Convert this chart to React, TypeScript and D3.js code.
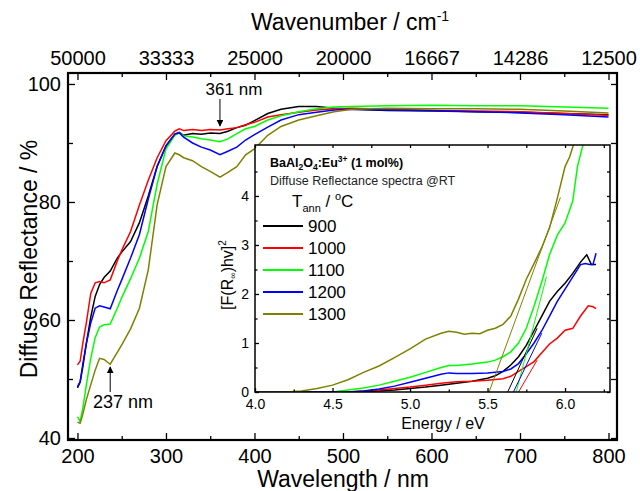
import React, { useRef, useEffect } from 'react';
import * as d3 from 'd3';

// Main plot: diffuse reflectance vs wavelength
const wavelengths = [200, 203, 206, 210, 215, 220, 225, 230, 237, 245, 250, 260, 270, 280, 290, 300, 310, 315, 320, 330, 340, 350, 361, 370, 380, 390, 400, 415, 430, 450, 470, 490, 510, 550, 600, 650, 700, 750, 800];
const refl900 = [48.5, 49.5, 52, 56, 60.5, 64, 66, 67.2, 68.3, 70.5, 71.5, 73.3, 76.5, 81, 86, 89.5, 91.5, 91.8, 91.3, 91.6, 91.5, 91.7, 91.6, 92.0, 92.6, 93.0, 93.8, 95.0, 95.7, 96.2, 96.2, 95.9, 95.7, 95.5, 95.4, 95.3, 95.2, 95.0, 94.8];
const refl1000 = [52.4, 53, 56, 59.5, 64.5, 66.3, 66.5, 66.3, 66.8, 70, 71.8, 75, 79.5, 83.7, 87.5, 90.4, 92.0, 92.4, 92.1, 92.3, 92.1, 92.3, 92.2, 92.4, 92.6, 93.1, 93.5, 94.4, 94.8, 95.2, 95.6, 95.8, 95.9, 95.7, 95.5, 95.4, 95.3, 95.0, 94.7];
const refl1100 = [43.6, 42.8, 45, 49, 53.5, 57, 58.8, 59.2, 59.3, 62, 63.8, 67, 70.5, 75, 83, 89, 91.3, 91.7, 91.2, 91.0, 90.7, 90.5, 90.2, 90.7, 91.6, 92.4, 92.8, 93.9, 94.6, 95.3, 95.8, 96.1, 96.2, 96.3, 96.4, 96.3, 96.3, 96.1, 95.9];
const refl1200 = [48.7, 49.5, 52.5, 56, 59.5, 62, 62.4, 62.2, 61.9, 65, 66.8, 70.5, 74.5, 80.5, 86, 89.5, 91.5, 91.7, 91.0, 90.0, 89.3, 88.8, 88.0, 88.6, 89.3, 90.5, 91.4, 92.7, 93.9, 94.8, 95.2, 95.6, 95.7, 95.6, 95.5, 95.3, 95.1, 94.8, 94.4];
const refl1300 = [42.7, 42.5, 44, 46.5, 49, 51.5, 53.5, 53.3, 52.5, 54.5, 55.8, 58.5, 62, 68.5, 79.5, 86, 88.3, 88.0, 87.5, 87.0, 86.0, 85.2, 84.2, 85.0, 86.0, 88.0, 89.0, 91.3, 92.8, 93.9, 94.6, 95.3, 95.7, 95.9, 95.8, 95.8, 95.7, 95.4, 95.1];

// Inset: Kubelka-Munk [F(R)hv]^2 vs energy
const energy900 = [4.0, 4.7, 4.8, 4.9, 5.0, 5.1, 5.2, 5.3, 5.4, 5.5, 5.55, 5.6, 5.65, 5.7, 5.75, 5.8, 5.85, 5.9, 5.95, 6.0, 6.05, 6.1, 6.14, 6.17, 6.2];
const km900 = [0, 0, 0.02, 0.04, 0.07, 0.10, 0.14, 0.18, 0.22, 0.28, 0.33, 0.42, 0.55, 0.72, 0.95, 1.25, 1.55, 1.85, 2.05, 2.22, 2.42, 2.65, 2.80, 2.60, 2.60];
const energy1000 = [4.0, 4.6, 4.7, 4.8, 4.9, 5.0, 5.1, 5.2, 5.3, 5.4, 5.5, 5.6, 5.65, 5.7, 5.75, 5.8, 5.85, 5.9, 5.95, 6.0, 6.05, 6.1, 6.15, 6.18, 6.2];
const km1000 = [0, 0, 0.02, 0.04, 0.07, 0.10, 0.14, 0.18, 0.21, 0.22, 0.24, 0.27, 0.32, 0.42, 0.52, 0.62, 0.80, 0.98, 1.10, 1.26, 1.30, 1.55, 1.76, 1.74, 1.70];
const energy1100 = [4.0, 4.5, 4.6, 4.7, 4.8, 4.9, 5.0, 5.1, 5.2, 5.25, 5.3, 5.4, 5.5, 5.55, 5.6, 5.65, 5.7, 5.75, 5.8, 5.85, 5.9, 5.95, 6.0, 6.05, 6.08, 6.12];
const km1100 = [0, 0, 0.04, 0.08, 0.14, 0.22, 0.30, 0.40, 0.50, 0.54, 0.54, 0.57, 0.61, 0.65, 0.72, 0.82, 1.0, 1.3, 1.75, 2.25, 2.8, 3.2, 3.45, 3.9, 4.6, 5.1];
const energy1200 = [4.0, 4.6, 4.7, 4.8, 4.9, 5.0, 5.1, 5.2, 5.25, 5.3, 5.4, 5.5, 5.6, 5.65, 5.7, 5.75, 5.8, 5.85, 5.9, 5.95, 6.0, 6.05, 6.1, 6.13, 6.16, 6.18, 6.2];
const km1200 = [0, 0, 0.02, 0.06, 0.12, 0.2, 0.28, 0.36, 0.39, 0.38, 0.38, 0.39, 0.42, 0.47, 0.58, 0.78, 1.0, 1.25, 1.55, 1.85, 2.1, 2.35, 2.6, 2.62, 2.6, 2.6, 2.83];
const energy1300 = [4.0, 4.2, 4.3, 4.4, 4.5, 4.6, 4.7, 4.8, 4.9, 5.0, 5.1, 5.2, 5.25, 5.3, 5.35, 5.4, 5.45, 5.5, 5.55, 5.6, 5.65, 5.7, 5.75, 5.8, 5.85, 5.9, 5.95, 6.0, 6.03, 6.06];
const km1300 = [0, 0, 0.02, 0.07, 0.14, 0.25, 0.40, 0.53, 0.70, 0.88, 1.08, 1.20, 1.24, 1.22, 1.18, 1.20, 1.19, 1.26, 1.30, 1.38, 1.55, 1.90, 2.30, 2.62, 2.95, 3.35, 3.95, 4.6, 4.8, 5.1];

// Linear fits (band gap extrapolation), [E, value] end points
const fit900 = [[5.63, 0], [5.82, 1.3]];
const fit1000 = [[5.70, 0], [5.82, 0.65]];
const fit1100 = [[5.685, 0], [5.88, 2.35]];
const fit1200 = [[5.667, 0], [5.85, 1.2]];
const fit1300 = [[5.51, 0], [5.97, 3.97]];

const annealTemps = ['900', '1000', '1100', '1200', '1300'];
const colors = ['#000000', '#ff0000', '#00ff00', '#0000ff', '#808000'];

const wlMajor = [200, 300, 400, 500, 600, 700, 800];
const wlMinor = [250, 350, 450, 550, 650, 750];
const reflMajor = [40, 60, 80, 100];
const reflMinor = [50, 70, 90];
const eMajor = [4.0, 4.5, 5.0, 5.5, 6.0];
const eMinor = [4.25, 4.75, 5.25, 5.75, 6.25];
const kmMajor = [0, 1, 2, 3, 4];
const kmMinor = [0.5, 1.5, 2.5, 3.5, 4.5];

const FONT = '"Liberation Sans", Arial, Helvetica, sans-serif';

const App: React.FC = () => {
  const svgRef = useRef<SVGSVGElement | null>(null);

  useEffect(() => {
    const svg = d3.select(svgRef.current);
    svg.selectAll('*').remove();
    svg.attr('font-family', FONT);

    const reflSeries = [refl900, refl1000, refl1100, refl1200, refl1300];
    const energySeries = [energy900, energy1000, energy1100, energy1200, energy1300];
    const kmSeries = [km900, km1000, km1100, km1200, km1300];
    const fits = [fit900, fit1000, fit1100, fit1200, fit1300];

    // main frame
    const L = 68, R = 617, T = 73, B = 440;
    const x = d3.scaleLinear().domain([189.3, 809.6]).range([L, R]);
    const y = d3.scaleLinear().domain([39.66, 101.86]).range([B, T]);

    const styleAxis = (g: any, size: number) => {
      g.select('.domain').remove();
      g.selectAll('.tick line').attr('stroke', '#000').attr('stroke-width', 1.6);
      g.selectAll('.tick text').attr('fill', '#000').attr('font-size', size).attr('font-family', FONT);
    };

    // curves
    const line = d3.line<number>()
      .x((_, i) => x(wavelengths[i]))
      .y(d => y(d));
    reflSeries.forEach((s, i) => {
      svg.append('path')
        .attr('d', line(s))
        .attr('fill', 'none')
        .attr('stroke', colors[i])
        .attr('stroke-width', 1.5);
    });

    // axes
    svg.append('g').attr('transform', `translate(0,${B})`)
      .call(d3.axisBottom(x).tickValues(wlMajor).tickSize(-7).tickPadding(9).tickFormat(d3.format('d')))
      .call(g => styleAxis(g, 20));
    svg.append('g').attr('transform', `translate(0,${B})`)
      .call(d3.axisBottom(x).tickValues(wlMinor).tickSize(-4).tickFormat(() => ''))
      .call(g => styleAxis(g, 20));
    svg.append('g').attr('transform', `translate(0,${T})`)
      .call(d3.axisTop(x).tickValues(wlMajor).tickSize(-7).tickPadding(8).tickFormat(d => `${Math.round(1e7 / +d)}`))
      .call(g => styleAxis(g, 20));
    svg.append('g').attr('transform', `translate(0,${T})`)
      .call(d3.axisTop(x).tickValues(wlMinor).tickSize(-4).tickFormat(() => ''))
      .call(g => styleAxis(g, 20));
    svg.append('g').attr('transform', `translate(${L},0)`)
      .call(d3.axisLeft(y).tickValues(reflMajor).tickSize(-7).tickPadding(7).tickFormat(d3.format('d')))
      .call(g => styleAxis(g, 20));
    svg.append('g').attr('transform', `translate(${L},0)`)
      .call(d3.axisLeft(y).tickValues(reflMinor).tickSize(-5).tickFormat(() => ''))
      .call(g => styleAxis(g, 20));
    svg.append('g').attr('transform', `translate(${R},0)`)
      .call(d3.axisRight(y).tickValues([...reflMajor, ...reflMinor]).tickSize(-6).tickFormat(() => ''))
      .call(g => styleAxis(g, 20));

    svg.append('rect')
      .attr('x', L).attr('y', T).attr('width', R - L).attr('height', B - T)
      .attr('fill', 'none').attr('stroke', '#000').attr('stroke-width', 2.2);

    // axis titles
    svg.append('text')
      .attr('x', 343).attr('y', 487).attr('text-anchor', 'middle')
      .attr('font-size', 23).text('Wavelength / nm');
    const top = svg.append('text')
      .attr('x', 350).attr('y', 30).attr('text-anchor', 'middle')
      .attr('font-size', 23);
    top.append('tspan').text('Wavenumber / cm');
    top.append('tspan').attr('font-size', 14).attr('dy', -9).text('-1');
    svg.append('text')
      .attr('transform', 'translate(37,259) rotate(-90)')
      .attr('text-anchor', 'middle')
      .attr('font-size', 23).text('Diffuse Reflectance / %');

    // arrows
    const defs = svg.append('defs');
    defs.append('marker')
      .attr('id', 'arrowHead')
      .attr('viewBox', '0 0 10 10')
      .attr('refX', 9).attr('refY', 5)
      .attr('markerWidth', 7).attr('markerHeight', 7)
      .attr('markerUnits', 'userSpaceOnUse')
      .attr('orient', 'auto')
      .append('path').attr('d', 'M0,0 L10,5 L0,10 z').attr('fill', '#000');

    svg.append('line')
      .attr('x1', x(361)).attr('x2', x(361)).attr('y1', 99).attr('y2', 126)
      .attr('stroke', '#000').attr('stroke-width', 1).attr('marker-end', 'url(#arrowHead)');
    svg.append('text')
      .attr('x', x(361) + 14).attr('y', 95).attr('text-anchor', 'middle')
      .attr('font-size', 17).text('361 nm');

    svg.append('line')
      .attr('x1', x(237)).attr('x2', x(237)).attr('y1', 392).attr('y2', 367)
      .attr('stroke', '#000').attr('stroke-width', 1).attr('marker-end', 'url(#arrowHead)');
    svg.append('text')
      .attr('x', 93).attr('y', 408)
      .attr('font-size', 18).text('237 nm');

    // ---------------- inset ----------------
    const iL = 255, iR = 610, iT = 145, iB = 392;
    const ix = d3.scaleLinear().domain([4.0, 6.29]).range([iL, iR]);
    const iy = d3.scaleLinear().domain([0, 5.04]).range([iB, iT]);

    svg.append('rect')
      .attr('x', iL).attr('y', iT).attr('width', iR - iL).attr('height', iB - iT)
      .attr('fill', '#fff');

    const clip = defs.append('clipPath').attr('id', 'insetClip');
    clip.append('rect').attr('x', iL).attr('y', iT).attr('width', iR - iL).attr('height', iB - iT);
    const inner = svg.append('g').attr('clip-path', 'url(#insetClip)');

    kmSeries.forEach((s, i) => {
      const e = energySeries[i];
      const l = d3.line<number>().x((_, j) => ix(e[j])).y(d => iy(d));
      inner.append('path')
        .attr('d', l(s))
        .attr('fill', 'none')
        .attr('stroke', colors[i])
        .attr('stroke-width', 1.5);
    });
    fits.forEach((f, i) => {
      inner.append('line')
        .attr('x1', ix(f[0][0])).attr('y1', iy(f[0][1]))
        .attr('x2', ix(f[1][0])).attr('y2', iy(f[1][1]))
        .attr('stroke', colors[i]).attr('stroke-width', 1);
    });

    svg.append('g').attr('transform', `translate(0,${iB})`)
      .call(d3.axisBottom(ix).tickValues(eMajor).tickSize(-4).tickPadding(7).tickFormat(d3.format('.1f')))
      .call(g => styleAxis(g, 14));
    svg.append('g').attr('transform', `translate(0,${iB})`)
      .call(d3.axisBottom(ix).tickValues(eMinor).tickSize(-2.5).tickFormat(() => ''))
      .call(g => styleAxis(g, 14));
    svg.append('g').attr('transform', `translate(0,${iT})`)
      .call(d3.axisTop(ix).tickValues([...eMajor, ...eMinor]).tickSize(-3).tickFormat(() => ''))
      .call(g => styleAxis(g, 14));
    svg.append('g').attr('transform', `translate(${iL},0)`)
      .call(d3.axisLeft(iy).tickValues(kmMajor).tickSize(-4).tickPadding(6).tickFormat(d3.format('d')))
      .call(g => styleAxis(g, 14));
    svg.append('g').attr('transform', `translate(${iL},0)`)
      .call(d3.axisLeft(iy).tickValues(kmMinor).tickSize(-2.5).tickFormat(() => ''))
      .call(g => styleAxis(g, 14));
    svg.append('g').attr('transform', `translate(${iR},0)`)
      .call(d3.axisRight(iy).tickValues([...kmMajor, ...kmMinor]).tickSize(-3).tickFormat(() => ''))
      .call(g => styleAxis(g, 14));
    svg.selectAll('.tick line').attr('stroke-width', 1.3);

    svg.append('rect')
      .attr('x', iL).attr('y', iT).attr('width', iR - iL).attr('height', iB - iT)
      .attr('fill', 'none').attr('stroke', '#000').attr('stroke-width', 1.5);

    svg.append('text')
      .attr('x', 443).attr('y', 429).attr('text-anchor', 'middle')
      .attr('font-size', 16).text('Energy / eV');
    const iyTitle = svg.append('text')
      .attr('transform', 'translate(233,275) rotate(-90)')
      .attr('text-anchor', 'middle').attr('font-size', 16);
    iyTitle.append('tspan').text('[F(R');
    iyTitle.append('tspan').attr('font-size', 9).attr('dy', 3).text('∞');
    iyTitle.append('tspan').attr('dy', -3).text(')hv]');
    iyTitle.append('tspan').attr('font-size', 10).attr('dy', -7).text('2');

    // sample label
    const title = svg.append('text')
      .attr('x', 270).attr('y', 167).attr('font-size', 12.5).attr('font-weight', 'bold');
    title.append('tspan').text('BaAl');
    title.append('tspan').attr('font-size', 8.5).attr('dy', 3).text('2');
    title.append('tspan').attr('dy', -3).text('O');
    title.append('tspan').attr('font-size', 8.5).attr('dy', 3).text('4');
    title.append('tspan').attr('dy', -3).text(':Eu');
    title.append('tspan').attr('font-size', 8.5).attr('dy', -5).text('3+');
    title.append('tspan').attr('dy', 5).text(' (1 mol%)');
    svg.append('text')
      .attr('x', 270).attr('y', 185).attr('font-size', 12.5).attr('fill', '#222')
      .text('Diffuse Reflectance spectra @RT');

    const tann = svg.append('text')
      .attr('x', 292).attr('y', 207).attr('font-size', 17);
    tann.append('tspan').text('T');
    tann.append('tspan').attr('font-size', 11).attr('dy', 5).text('ann');
    tann.append('tspan').attr('dy', -5).text(' / ');
    tann.append('tspan').attr('font-size', 11).attr('dy', -7).text('o');
    tann.append('tspan').attr('dy', 7).text('C');

    // legend
    annealTemps.forEach((t, i) => {
      const ly = 226 + i * 22;
      svg.append('line')
        .attr('x1', 263).attr('x2', 303).attr('y1', ly).attr('y2', ly)
        .attr('stroke', colors[i]).attr('stroke-width', 2);
      svg.append('text')
        .attr('x', 308).attr('y', ly).attr('dy', '0.36em')
        .attr('font-size', 17).text(t);
    });
  }, []);

  return (
    <div style={{ position: 'absolute', left: 0, top: 0, width: 640, height: 491, background: '#fff' }}>
      <svg ref={svgRef} width={640} height={491} style={{ display: 'block' }}></svg>
    </div>
  );
};

export default App;
